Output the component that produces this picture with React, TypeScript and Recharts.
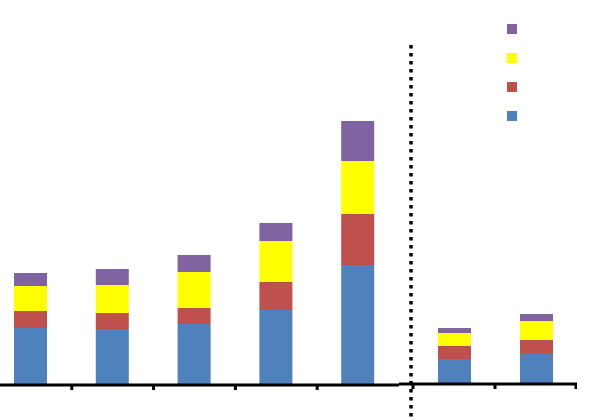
import React from 'react'
import { BarChart, Bar, XAxis, YAxis, Legend } from 'recharts'

// Seven periods: the first five on the left panel, the last two after the divider
const periods = ['1', '2', '3', '4', '5', '6', '7']
const splitAt = 5

// Stacked series, bottom to top
const seriesBlue = [57, 56, 61, 75, 120, 25, 30]
const seriesRed = [17, 16, 16, 28, 51, 13, 14]
const seriesYellow = [25, 28, 36, 41, 53, 13, 19]
const seriesPurple = [13, 16, 17, 18, 40, 5, 7]

const SERIES = [
  { key: 'blue', name: 'Series 1', color: '#4F81BD', values: seriesBlue },
  { key: 'red', name: 'Series 2', color: '#C0504D', values: seriesRed },
  { key: 'yellow', name: 'Series 3', color: '#FFFF00', values: seriesYellow },
  { key: 'purple', name: 'Series 4', color: '#8064A2', values: seriesPurple },
]

const rows = periods.map((p, i) => {
  const row: Record<string, string | number> = { name: p }
  SERIES.forEach((s) => {
    row[s.key] = s.values[i]
  })
  return row
})

const leftRows = rows.slice(0, splitAt)
const rightRows = rows.slice(splitAt)

// Layout
const LEFT_X = -10
const LEFT_W = 409
const LEFT_BAND = LEFT_W / leftRows.length
const RIGHT_X = 399
const RIGHT_W = 178
const RIGHT_PAD = 14
const RIGHT_BAND = (RIGHT_W - RIGHT_PAD) / rightRows.length

/**
 * Tick marks sit between the categories, Excel style
 */
const LeftTick = (props: any) => {
  const { x, index, visibleTicksCount } = props
  if (index >= visibleTicksCount - 1) return null
  const tx = x + LEFT_BAND / 2
  return <line x1={tx} x2={tx} y1={385} y2={390} stroke="#000" strokeWidth={3} />
}

const RightTick = (props: any) => {
  const { x, index, visibleTicksCount } = props
  const left = x - RIGHT_BAND / 2
  const right = x + RIGHT_BAND / 2
  return (
    <g>
      <line x1={left} x2={left} y1={384} y2={389} stroke="#000" strokeWidth={3} />
      {index === visibleTicksCount - 1 && (
        <line x1={right - 1} x2={right - 1} y1={384} y2={389} stroke="#000" strokeWidth={3} />
      )}
    </g>
  )
}

/**
 * Legend: colour squares only, top series first
 */
const LegendSquares = (props: any) => {
  const items = [...(props.payload || [])].reverse()
  return (
    <div>
      {items.map((item: any) => (
        <div
          key={item.value}
          style={{ width: 10, height: 10, background: item.color, marginBottom: 19 }}
        />
      ))}
    </div>
  )
}

export default function App() {
  return (
    <div
      style={{
        position: 'absolute',
        top: 0,
        left: 0,
        width: 614,
        height: 419,
        overflow: 'hidden',
        background: '#fff',
      }}
    >
      {/* Left panel */}
      <div style={{ position: 'absolute', left: LEFT_X, top: 0 }}>
        <BarChart
          width={LEFT_W}
          height={419}
          data={leftRows}
          margin={{ top: 85, right: 0, bottom: 0, left: 0 }}
          barSize={33}
        >
          <XAxis
            dataKey="name"
            height={34}
            axisLine={{ stroke: '#000', strokeWidth: 3 }}
            tickLine={false}
            tick={<LeftTick />}
            interval={0}
          />
          <YAxis hide domain={[0, 300]} />
          {SERIES.map((s) => (
            <Bar
              key={s.key}
              dataKey={s.key}
              name={s.name}
              stackId="a"
              fill={s.color}
              isAnimationActive={false}
            />
          ))}
        </BarChart>
      </div>

      {/* Right panel */}
      <div style={{ position: 'absolute', left: RIGHT_X, top: 0 }}>
        <BarChart
          width={RIGHT_W}
          height={419}
          data={rightRows}
          margin={{ top: 84, right: 0, bottom: 0, left: 0 }}
          barSize={33}
        >
          <XAxis
            dataKey="name"
            height={35}
            padding={{ left: RIGHT_PAD, right: 0 }}
            axisLine={{ stroke: '#000', strokeWidth: 3 }}
            tickLine={false}
            tick={<RightTick />}
            interval={0}
          />
          <YAxis hide domain={[0, 300]} />
          <Legend
            layout="vertical"
            align="center"
            verticalAlign="middle"
            content={<LegendSquares />}
            wrapperStyle={{ position: 'absolute', left: 108, top: 24, width: 10, height: 'auto' }}
          />
          {SERIES.map((s) => (
            <Bar
              key={s.key}
              dataKey={s.key}
              name={s.name}
              stackId="a"
              fill={s.color}
              isAnimationActive={false}
            />
          ))}
        </BarChart>
      </div>

      {/* Dotted divider between the two periods */}
      <svg
        width={614}
        height={419}
        style={{ position: 'absolute', left: 0, top: 0, pointerEvents: 'none' }}
      >
        <line
          x1={411}
          x2={411}
          y1={45}
          y2={419}
          stroke="#000"
          strokeWidth={3.5}
          strokeDasharray="3.5 4.5"
        />
      </svg>
    </div>
  )
}
